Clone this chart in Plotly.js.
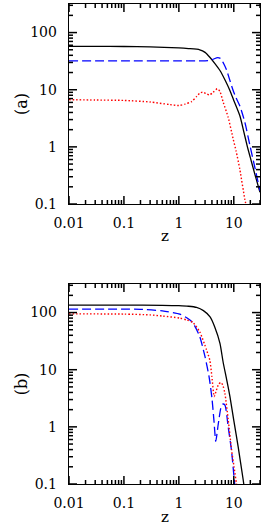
<!DOCTYPE html>
<html><head><meta charset="utf-8">
<script src="https://cdn.plot.ly/plotly-3.0.1.min.js"></script>
<style>html,body{margin:0;padding:0;background:#fff}#chart{width:273px;height:530px}</style>
</head><body><div id="chart"></div>
<script>
// Panel (a)
const zA_black = [0.01, 0.03, 0.1, 0.3, 1, 1.5, 2.4, 3, 3.66, 4.5, 5.6, 7, 8.5, 10, 12.9, 15, 17.7, 20, 24, 30];
const yA_black = [57.5, 57.3, 57, 56, 54, 52.5, 50, 45, 37, 29, 21.7, 14.5, 9.7, 6.5, 3.5, 1.95, 1.0, 0.65, 0.34, 0.16];
const zA_blue = [0.01, 0.1, 1, 2, 3, 3.7, 4.3, 5.1, 5.8, 6.5, 7.4, 8.5, 9.7, 11, 12.9, 15.9, 19.5, 24, 30];
const yA_blue = [32, 32, 32, 32, 32, 32.5, 34.5, 36.5, 35, 29, 22, 14.5, 9.8, 7.2, 5.2, 2.7, 1.1, 0.45, 0.17];
const zA_red = [0.01, 0.03, 0.1, 0.3, 0.68, 1, 1.3, 1.7, 2.1, 2.4, 2.7, 3.1, 3.6, 4.2, 5.0, 5.6, 6.4, 7.9, 9.7, 11, 12.9, 15.9, 17];
const yA_red = [6.7, 6.6, 6.5, 6.1, 5.5, 5.3, 5.6, 6.2, 7.6, 8.7, 9.1, 8.6, 8.1, 9.0, 10.4, 9.3, 6.1, 3.3, 1.4, 0.85, 0.4, 0.12, 0.09];
// Panel (b)
const zB_black = [0.01, 0.1, 0.5, 1, 1.5, 2.1, 2.8, 3.7, 4.5, 5.6, 6.4, 7.4, 8.5, 10, 12, 14.8, 16];
const yB_black = [135, 135, 134, 132, 129, 123, 108, 84, 56, 29, 13.5, 6.8, 3.4, 1.3, 0.45, 0.12, 0.07];
const zB_blue = [0.01, 0.1, 0.2, 0.5, 1.04, 1.5, 1.8, 2.4, 3.0, 3.55, 4.0, 4.35, 4.7, 5.2, 5.8, 6.3, 6.9, 7.9, 9.1, 10.4, 11];
const yB_blue = [115, 115, 114, 107, 94, 77, 66, 38, 16.7, 7.5, 3.2, 1.3, 0.56, 1.1, 2.1, 2.5, 2.4, 1.0, 0.38, 0.1, 0.07];
const zB_red = [0.01, 0.1, 0.3, 0.5, 1.04, 1.4, 1.8, 2.4, 3.2, 3.66, 4.0, 4.4, 4.8, 5.3, 5.8, 6.3, 6.9, 7.9, 9.1, 10.1, 11.2, 12];
const yB_red = [95, 94, 91, 87, 80, 74, 67, 46, 22, 14.7, 7.5, 3.4, 4.3, 5.6, 6.0, 5.4, 3.8, 1.35, 0.4, 0.2, 0.1, 0.07];

// Axis ticks
const xTickVals = [0.01, 0.1, 1, 10];
const xTickText = ['0.01', '0.1', '1', '10'];
const yTickVals = [0.1, 1, 10, 100];
const yTickText = ['0.1', '1', '10', '100'];
const minorDigits = [2, 3, 4, 5, 6, 7, 8, 9];
const X_MAX = 30, Y_MAX = Math.pow(10, 2.5);

const panelLabels = ['(a)', '(b)'];
const xLabel = 'z';

const FONT = 'DejaVu Serif';
const black = {color: '#000', width: 1.3, dash: 'solid'};
const blue = {color: '#0000ff', width: 1.3, dash: '9px,4px'};
const red = {color: '#ff0000', width: 1.4, dash: '1.5px,2px'};

function tr(x, y, line, xa, ya) {
  return {x: x, y: y, type: 'scatter', mode: 'lines', line: Object.assign({shape: 'spline', smoothing: 0.6}, line),
          xaxis: xa, yaxis: ya, hoverinfo: 'skip'};
}
const data = [
  tr(zA_black, yA_black, black, 'x', 'y'),
  tr(zA_blue, yA_blue, blue, 'x', 'y'),
  tr(zA_red, yA_red, red, 'x', 'y'),
  tr(zB_black, yB_black, black, 'x2', 'y2'),
  tr(zB_blue, yB_blue, blue, 'x2', 'y2'),
  tr(zB_red, yB_red, red, 'x2', 'y2')
];

// tick marks on all four sides (major + minor), placed through the axes' own coordinates
const PLOT_W = 191, PLOT_H = 200, MAJ = 8, MIN = 4;
function minorOf(decades, max) {
  const out = [];
  decades.forEach(d => minorDigits.forEach(m => { if (m * d <= max) out.push(m * d); }));
  return out;
}
function tickShapes(xr, yr) {
  const s = [];
  const ln = {color: '#000', width: 1.5};
  const addX = (v, L) => {
    s.push({type: 'line', xref: xr, yref: yr + ' domain', x0: v, x1: v, y0: 0, y1: L / PLOT_H, line: ln, layer: 'above'});
    s.push({type: 'line', xref: xr, yref: yr + ' domain', x0: v, x1: v, y0: 1, y1: 1 - L / PLOT_H, line: ln, layer: 'above'});
  };
  const addY = (v, L) => {
    s.push({type: 'line', xref: xr + ' domain', yref: yr, x0: 0, x1: L / PLOT_W, y0: v, y1: v, line: ln, layer: 'above'});
    s.push({type: 'line', xref: xr + ' domain', yref: yr, x0: 1, x1: 1 - L / PLOT_W, y0: v, y1: v, line: ln, layer: 'above'});
  };
  xTickVals.forEach(v => addX(v, MAJ));
  minorOf(xTickVals, X_MAX).forEach(v => addX(v, MIN));
  yTickVals.forEach(v => addY(v, MAJ));
  minorOf(yTickVals, Y_MAX).forEach(v => addY(v, MIN));
  return s;
}

function baseAxis() {
  return {
    type: 'log', showline: true, linecolor: '#000', linewidth: 1.3, mirror: true,
    ticks: '', showgrid: false, zeroline: false, tickmode: 'array',
    tickfont: {family: FONT, size: 14, color: '#000'}
  };
}
function xAxis(anchor) {
  return Object.assign(baseAxis(), {range: [-2, Math.log10(X_MAX)], anchor: anchor,
    tickvals: xTickVals, ticktext: xTickText, ticklabelstandoff: 6});
}
function yAxis(anchor, domain, label) {
  return Object.assign(baseAxis(), {range: [-1, 2.5], anchor: anchor, domain: domain,
    tickvals: yTickVals, ticktext: yTickText, ticklabelstandoff: 8,
    title: {text: label, font: {family: FONT, size: 16, color: '#000'}}});
}

const layout = {
  width: 273, height: 530, margin: {l: 69, r: 13, t: 4, b: 46},
  paper_bgcolor: '#fff', plot_bgcolor: '#fff', showlegend: false,
  xaxis: xAxis('y'),
  yaxis: yAxis('x', [0.5833, 1], panelLabels[0]),
  xaxis2: xAxis('y2'),
  yaxis2: yAxis('x2', [0, 0.4167], panelLabels[1]),
  shapes: tickShapes('x', 'y').concat(tickShapes('x2', 'y2')),
  annotations: [
    {text: xLabel, xref: 'paper', yref: 'paper', x: 0.5, y: (530 - 46 - 236) / 480, showarrow: false,
     xanchor: 'center', yanchor: 'middle', font: {family: FONT, size: 15, color: '#000'}},
    {text: xLabel, xref: 'paper', yref: 'paper', x: 0.5, y: (530 - 46 - 517) / 480, showarrow: false,
     xanchor: 'center', yanchor: 'middle', font: {family: FONT, size: 15, color: '#000'}}
  ]
};
Plotly.newPlot('chart', data, layout, {staticPlot: true, displayModeBar: false});
</script>
</body></html>
